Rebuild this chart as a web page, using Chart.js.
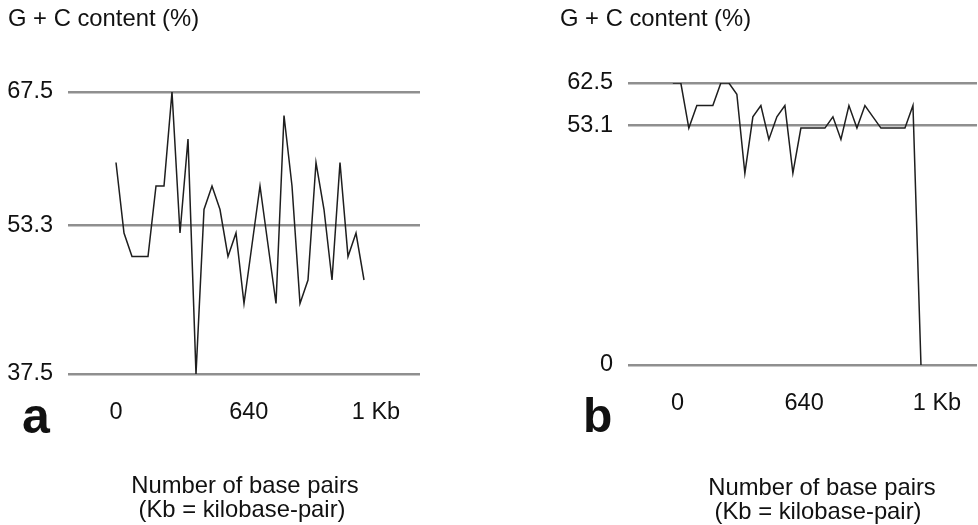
<!DOCTYPE html>
<html>
<head>
<meta charset="utf-8">
<script src="https://cdn.jsdelivr.net/npm/chart.js@4"></script>
<style>
  body { margin: 0; background: #fff; }
  #page { position: relative; width: 978px; height: 525px; font-family: 'Liberation Sans', Arial, sans-serif; color: #111; }
  .box { position: absolute; top: 0; width: 489px; height: 525px; }
  .txt { position: absolute; font-size: 23.8px; line-height: 23.5px; white-space: nowrap; }
  .ctr { width: 400px; text-align: center; }
  .tag { position: absolute; font-weight: bold; line-height: 1; }
</style>
</head>
<body>
<div id="page">
  <div class="box" style="left:0"><canvas id="chartA" width="489" height="525"></canvas></div>
  <div class="box" style="left:489px"><canvas id="chartB" width="489" height="525"></canvas></div>

  <div class="txt" style="left:8px; top:6px">G + C content (%)</div>
  <div class="txt" style="left:560px; top:6px">G + C content (%)</div>

  <div class="tag" style="left:22px; top:391px; font-size:50px">a</div>
  <div class="tag" style="left:583px; top:392px; font-size:48px">b</div>

  <div class="txt ctr" style="left:45px; top:473px">Number of base pairs</div>
  <div class="txt ctr" style="left:42px; top:497px">(Kb = kilobase-pair)</div>
  <div class="txt ctr" style="left:622px; top:475px">Number of base pairs</div>
  <div class="txt ctr" style="left:618px; top:499px">(Kb = kilobase-pair)</div>
</div>

<script>
// G + C content (%) per window
const gcContentA = [60, 52.5, 50, 50, 50, 57.5, 57.5, 67.5, 52.5, 62.5, 37.5, 55, 57.5, 55, 50, 52.5,
                    45, 51.25, 57.5, 51.25, 45, 65, 57.5, 45, 47.5, 60, 55, 47.5, 60, 50, 52.5, 47.5];
const gcContentB = [62.5, 62.5, 52.5, 57.5, 57.5, 57.5, 62.5, 62.5, 60, 42.5, 55, 57.5, 50, 55, 57.5, 42.5,
                    52.5, 52.5, 52.5, 52.5, 55, 50, 57.5, 52.5, 57.5, 55, 52.5, 52.5, 52.5, 52.5, 57.5, 0];

// y reference lines / tick labels
const yTicksA = [37.5, 53.3, 67.5];
const yTicksB = [0, 53.1, 62.5];

// x tick labels and where they sit (in window index units)
const xTickLabels = ['0', '640', '1 Kb'];
const xTickPosA = [0, 16.6, 32.5];
const xTickPosB = [0.6, 16.4, 33];

Chart.defaults.font.family = "'Liberation Sans', Arial, sans-serif";
Chart.defaults.color = '#111';

function makeChart(canvasId, values, yTicks, xTicks, opt) {
    const ctx = document.getElementById(canvasId).getContext('2d');
    return new Chart(ctx, {
        type: 'line',
        data: {
            datasets: [{
                data: values.map((v, i) => ({ x: i, y: v })),
                borderColor: '#1e1e1e',
                borderWidth: 1.5,
                pointRadius: 0,
                tension: 0,
                fill: false
            }]
        },
        options: {
            responsive: false,
            animation: false,
            layout: { padding: { top: opt.top, right: opt.right, left: 0, bottom: 0 } },
            plugins: { legend: { display: false }, tooltip: { enabled: false } },
            scales: {
                x: {
                    type: 'linear',
                    min: opt.xMin,
                    max: opt.xMax,
                    grid: { display: false },
                    border: { display: false },
                    afterBuildTicks: s => { s.ticks = xTicks.map(v => ({ value: v })); },
                    afterFit: s => { s.height = opt.xHeight; },
                    ticks: {
                        autoSkip: false,
                        maxRotation: 0,
                        padding: 16,
                        font: { size: 23.5 },
                        callback: (v, i) => xTickLabels[i]
                    }
                },
                y: {
                    min: yTicks[0],
                    max: yTicks[yTicks.length - 1],
                    border: { display: false },
                    grid: { color: '#8f8f8f', lineWidth: 2.5, drawTicks: false },
                    afterBuildTicks: s => { s.ticks = yTicks.map(v => ({ value: v })); },
                    afterFit: s => { s.width = opt.yWidth; },
                    ticks: {
                        autoSkip: false,
                        padding: 15,
                        font: { size: 23.5 },
                        callback: v => String(v)
                    }
                }
            }
        }
    });
}

let chartA = makeChart('chartA', gcContentA, yTicksA, xTickPosA,
    { top: 92, right: 69, xMin: -6, xMax: 38, xHeight: 151, yWidth: 68 });
let chartB = makeChart('chartB', gcContentB, yTicksB, xTickPosB,
    { top: 83, right: 1, xMin: -5.6, xMax: 38, xHeight: 160, yWidth: 139 });
</script>
</body>
</html>
